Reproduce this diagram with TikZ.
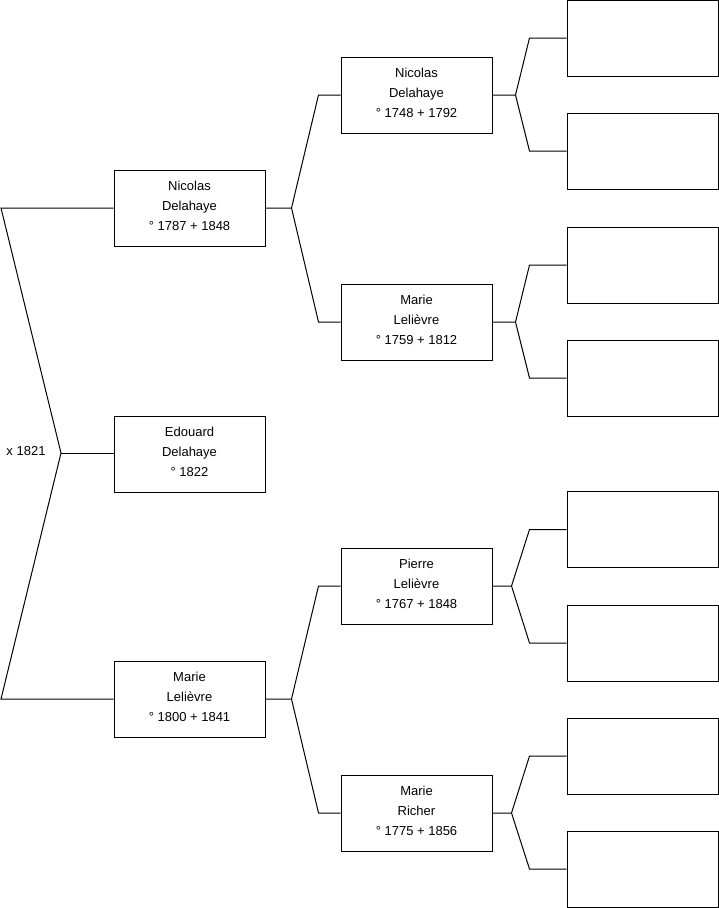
\documentclass[tikz,border=0pt]{standalone}
\usepackage{fontspec}
\setmainfont{Liberation Sans}
\usetikzlibrary{calc}
\newcommand\pbox[3]{\node[person,label={[ltext]center:{#3}}] (#1) at (#2) {};}
\begin{document}
\begin{tikzpicture}[x=1pt,y=-1pt,
  person/.style={draw=black,line width=1pt,rectangle,minimum width=151pt,minimum height=76pt,inner sep=0pt},
  ltext/.style={align=center,inner sep=0pt,yshift=2pt,font=\fontsize{13}{20}\selectfont},
  link/.style={draw=black,line width=1pt}]
\useasboundingbox (0,0) rectangle (719,908);
% generation 0/1
\pbox{e}{189.5,454}{Edouard\\Delahaye\\° 1822}
\pbox{f}{189.5,208}{Nicolas\\Delahaye\\° 1787 + 1848}
\pbox{m}{189.5,699}{Marie\\Lelièvre\\° 1800 + 1841}
% generation 2
\pbox{ff}{416.5,95}{Nicolas\\Delahaye\\° 1748 + 1792}
\pbox{fm}{416.5,322}{Marie\\Lelièvre\\° 1759 + 1812}
\pbox{mf}{416.5,586}{Pierre\\Lelièvre\\° 1767 + 1848}
\pbox{mm}{416.5,813}{Marie\\Richer\\° 1775 + 1856}
% generation 3
\node[person] (fff) at (642.5,38) {};
\node[person] (ffm) at (642.5,151) {};
\node[person] (fmf) at (642.5,265) {};
\node[person] (fmm) at (642.5,378) {};
\node[person] (mff) at (642.5,529.5) {};
\node[person] (mfm) at (642.5,643) {};
\node[person] (mmf) at (642.5,756) {};
\node[person] (mmm) at (642.5,869) {};
% marriage label
\node[font=\fontsize{13}{15}\selectfont] (mx) at (26,451) {x 1821};
% left bracket
\coordinate (L1) at (1,208);
\coordinate (K0) at (61,453);
\coordinate (L2) at (1,699);
\draw[link] (f.west) -- (L1) -- (K0) -- (L2) -- (m.west);
\draw[link] (K0) -- (K0 -| e.west);
% gen1 -> gen2
\foreach \c/\a/\b in {f/ff/fm, m/mf/mm}{
  \draw[link] (\c.east) -- ++(26,0) coordinate (k\c)
    -- ($(\a.west)+(-22,0)$) -- (\a.west);
  \draw[link] (k\c) -- ($(\b.west)+(-22,0)$) -- (\b.west);
}
% gen2 -> gen3
\foreach \c/\a/\b/\d in {ff/fff/ffm/23, fm/fmf/fmm/23, mf/mff/mfm/19, mm/mmf/mmm/19}{
  \draw[link] (\c.east) -- ++(\d,0) coordinate (k\c)
    -- ($(\a.west)+(-37,0)$) -- (\a.west);
  \draw[link] (k\c) -- ($(\b.west)+(-37,0)$) -- (\b.west);
}
\end{tikzpicture}
\end{document}
